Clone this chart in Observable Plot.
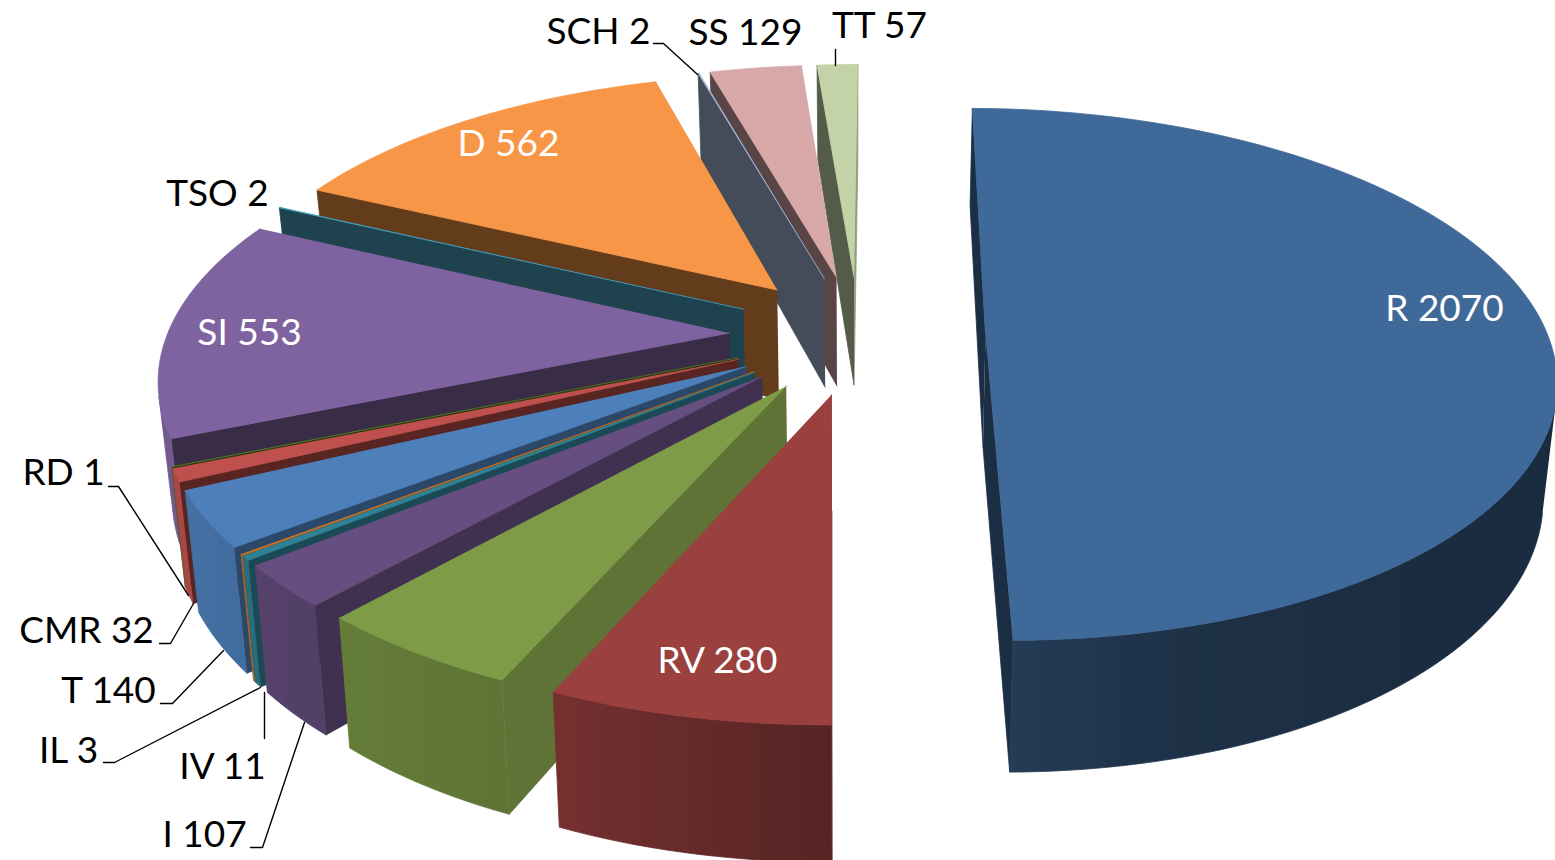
<!DOCTYPE html>
<html><head><meta charset="utf-8">
<style>html,body{margin:0;padding:0;background:#fff;overflow:hidden}svg{display:block}</style>
<script src="https://cdn.jsdelivr.net/npm/d3@7"></script>
<script src="https://cdn.jsdelivr.net/npm/@observablehq/plot@0.6"></script>
</head><body><div id="chart"></div>
<script>
// Data, clockwise from twelve o'clock (the green slice carries no label in the picture; its value is estimated)
const names  = ["R","RV","","I","IV","IL","T","CMR","RD","SI","TSO","D","SCH","SS","TT"];
const values = [2070,280,210,107,11,3,140,32,1,553,2,562,2,129,57];
const colors = ["#3f6998","#9a403f","#7e9b47","#664e80","#2f8196","#c8742a","#4d7fba","#bf504d","#5d7b2b","#7f63a0","#4aa5c4","#f79646","#a6b9dc","#d8a7a7","#c3d3a7"];

// Look of the 3D pie
const view = {x0:858, y0:334, a:562, b:260, p:0.15, H:112, nadir:0.02, rotate:0.4};
const explodeDefault = 0.23, explodeFirst = 0.226;
const rimShade = d3.scaleLinear([90,140,165,180,203,215,240,260,300],[.41,.42,.47,.57,.75,.78,.88,.9,.85]).clamp(true);
const sideShade = d3.scaleLinear([113,131,142,157,205,254,270],[.75,.64,.57,.44,.40,.41,.44]).clamp(true);

const rad = d => d*Math.PI/180;
const shade = (c,k)=>{const r=d3.rgb(c);return d3.rgb(r.r*k,r.g*k,r.b*k).formatHex();};
function project(u,v,z){
  const d = 1+view.p*v;
  return [view.x0+(view.a*u/d)*(1-view.nadir*z), view.y0-view.b*v/d+view.H*z/d];
}
const area = pts => d3.sum(pts,(p,i)=>{const q=pts[(i+1)%pts.length];return p[0]*q[1]-q[0]*p[1];});
const total = d3.sum(values);
const slices = []; let acc = 0;
values.forEach((val,i)=>{
  const start = acc/total*360+view.rotate; acc += val; const end = acc/total*360+view.rotate;
  slices.push({i,start,end,mid:(start+end)/2,e:i===0?explodeFirst:explodeDefault,color:colors[i]});
});
const rows = []; const gradients = []; let pid = 0;
function poly(pts,fill){const id=pid++;pts.forEach(([x,y])=>rows.push({id,fill,x,y}));}
function addSlice(s){
  const ou=s.e*Math.sin(rad(s.mid)), ov=s.e*Math.cos(rad(s.mid));
  const rim=(t,z)=>project(ou+Math.sin(rad(t)),ov+Math.cos(rad(t)),z);
  const ctr=z=>project(ou,ov,z);
  const n=Math.max(1,Math.ceil((s.end-s.start)/1.5));
  const ts=d3.range(n+1).map(k=>s.start+(s.end-s.start)*k/n);
  // cut faces, only when they face the viewer
  const nStart=(s.start+270)%360, nEnd=(s.end+90)%360;
  const endWall=[ctr(0),rim(s.end,0),rim(s.end,1),ctr(1)];
  const startWall=[ctr(0),rim(s.start,0),rim(s.start,1),ctr(1)];
  if(area(endWall)>0) poly(endWall,shade(s.color,sideShade(nEnd)));
  if(area(startWall)<0) poly(startWall,shade(s.color,sideShade(nStart)));
  // outer wall: the part facing the viewer, one shape with a left-to-right shading
  const vis=[];
  for(let k=0;k<n;k++){
    const q=[rim(ts[k],0),rim(ts[k+1],0),rim(ts[k+1],1),rim(ts[k],1)];
    if(area(q)<0){ if(!vis.length) vis.push(ts[k]); vis.push(ts[k+1]); }
  }
  if(vis.length){
    const top=vis.map(t=>rim(t,0)), bottom=vis.map(t=>rim(t,1)).reverse();
    const x1=top[0][0], x2=top[top.length-1][0];
    let fill=shade(s.color,rimShade(d3.mean(vis)));
    if(Math.abs(x2-x1)>=1){
      fill=`url(#rim${s.i})`;
      gradients.push({id:`rim${s.i}`,x1,x2,stops:vis.map((t,k)=>({o:(top[k][0]-x1)/(x2-x1),c:shade(s.color,rimShade(t))}))});
    }
    poly([...top,...bottom],fill);
  }
  // top face
  poly([ctr(0),...ts.map(t=>rim(t,0))],s.color);
}
// painter's order: the large slice, then from the back round to the front
addSlice(slices[0]);
slices.slice(1).reverse().forEach(addSlice);

// Hand-placed data labels, as in the picture
const labelPlace = {
  "R":[1444,309,"#fff"],"RV":[717,661,"#fff"],"SI":[249,333,"#fff"],"D":[508,144,"#fff"],
  "SCH":[598,32,"#000"],"SS":[745,33,"#000"],"TT":[879,26,"#000"],"TSO":[217,194,"#000"],
  "RD":[63,473,"#000"],"CMR":[86,631,"#000"],"T":[108,691,"#000"],"IL":[68,751,"#000"],
  "IV":[222,767,"#000"],"I":[204,835,"#000"]
};
const labels = names.map((n,i)=>n?{t:`${n} ${values[i]}`,x:labelPlace[n][0],y:labelPlace[n][1],c:labelPlace[n][2]}:null).filter(Boolean);
const leaderPaths = [
  [[108,486],[118,486],[188,595]],
  [[159,643],[170,643],[193,603]],
  [[160,703],[172,703],[223,650]],
  [[103,762],[114,762],[260,687]],
  [[264,738],[264,692]],
  [[250,847],[262,847],[304,722]],
  [[653,43],[663,43],[697,74]],
  [[835,49],[835,65]]
];
const leaders = leaderPaths.flatMap((p,id)=>p.map(([x,y])=>({id,x,y})));

function gradientDefs(){
  const defs=d3.create("svg:defs");
  gradients.forEach(g=>{
    const lg=defs.append("linearGradient").attr("id",g.id).attr("gradientUnits","userSpaceOnUse")
      .attr("x1",g.x1).attr("x2",g.x2).attr("y1",0).attr("y2",0);
    g.stops.forEach(st=>lg.append("stop").attr("offset",st.o).attr("stop-color",st.c));
  });
  return defs.node();
}

const chart = Plot.plot({
  width:1555,height:860,margin:0,
  x:{domain:[0,1555],range:[0,1555],axis:null},
  y:{domain:[0,860],range:[0,860],axis:null},
  color:{type:"identity"},
  marks:[
    gradientDefs,
    Plot.line(rows,{x:"x",y:"y",z:"id",fill:"fill",stroke:"fill",strokeWidth:0.8,curve:"linear"}),
    Plot.line(leaders,{x:"x",y:"y",z:"id",stroke:"#000",strokeWidth:1.4,curve:"linear"}),
    Plot.text(labels,{x:"x",y:"y",text:"t",fill:"c",fontSize:37,fontFamily:"Lato",textAnchor:"middle"})
  ]
});
document.getElementById("chart").append(chart);
</script></body></html>
